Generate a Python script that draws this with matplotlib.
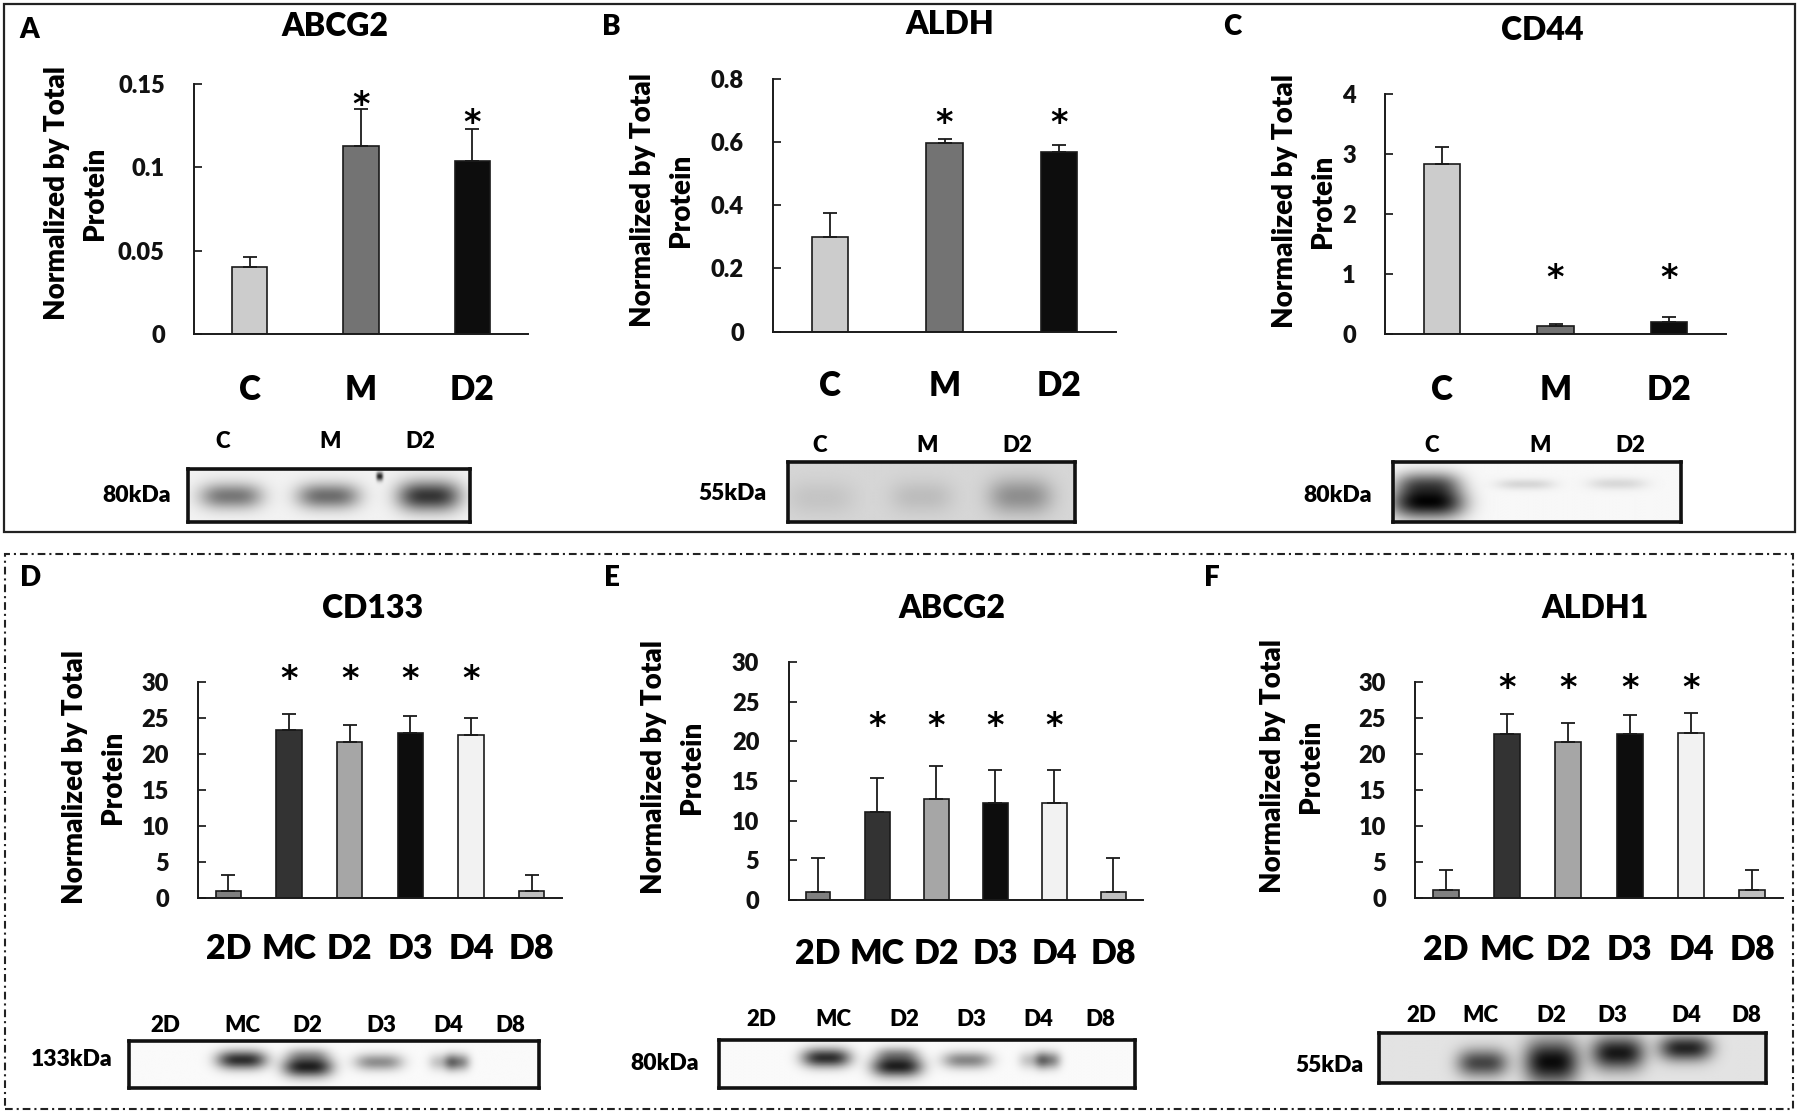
import numpy as np
import matplotlib
matplotlib.use("Agg")
import matplotlib.pyplot as plt
from matplotlib.patches import Rectangle

W, H = 1800, 1113

# ---------------------------------------------------------------------------
# Data
# ---------------------------------------------------------------------------
top_groups = ["C", "M", "D2"]
top_colors = ["#cccccc", "#737373", "#0d0d0d"]

abcg2_mean = [0.040, 0.113, 0.104]
abcg2_err = [0.006, 0.022, 0.019]
abcg2_star = [None, 0.142, 0.131]
abcg2_ticks = [0, 0.05, 0.1, 0.15]
abcg2_ticklabels = ["0", "0.05", "0.1", "0.15"]

aldh_mean = [0.30, 0.597, 0.567]
aldh_err = [0.075, 0.012, 0.024]
aldh_star = [None, 0.683, 0.683]
aldh_ticks = [0, 0.2, 0.4, 0.6, 0.8]
aldh_ticklabels = ["0", "0.2", "0.4", "0.6", "0.8"]

cd44_mean = [2.83, 0.14, 0.20]
cd44_err = [0.29, 0.02, 0.09]
cd44_star = [None, 1.06, 1.06]
cd44_ticks = [0, 1, 2, 3, 4]
cd44_ticklabels = ["0", "1", "2", "3", "4"]

bottom_groups = ["2D", "MC", "D2", "D3", "D4", "D8"]
bottom_colors = ["#808080", "#333333", "#a6a6a6", "#0d0d0d", "#f2f2f2", "#bfbfbf"]
bottom_ticks = [0, 5, 10, 15, 20, 25, 30]
bottom_ticklabels = ["0", "5", "10", "15", "20", "25", "30"]

cd133_mean = [1.0, 23.3, 21.6, 22.9, 22.6, 1.0]
cd133_err = [2.2, 2.3, 2.4, 2.4, 2.4, 2.2]
cd133_star = [None, 31.4, 31.4, 31.4, 31.4, None]

abcg2_3d_mean = [1.0, 11.1, 12.7, 12.2, 12.2, 1.0]
abcg2_3d_err = [4.3, 4.3, 4.2, 4.2, 4.2, 4.3]
abcg2_3d_star = [None, 22.8, 22.8, 22.8, 22.8, None]

aldh1_mean = [1.0, 22.8, 21.6, 22.7, 22.9, 1.0]
aldh1_err = [2.8, 2.75, 2.65, 2.75, 2.8, 2.8]
aldh1_star = [None, 30.2, 30.2, 30.2, 30.2, None]

# blot bands: (x centre, y centre, half width, half height, darkness), fractions of the blot
blot_a_bands = [(0.152, 0.52, 0.11, 0.24, 0.48), (0.496, 0.52, 0.11, 0.24, 0.52),
                (0.853, 0.52, 0.11, 0.28, 0.74), (0.678, 0.15, 0.012, 0.08, 0.8)]
blot_b_bands = [(0.114, 0.60, 0.12, 0.30, 0.07), (0.466, 0.58, 0.11, 0.28, 0.10),
                (0.810, 0.57, 0.11, 0.30, 0.28)]
blot_c_bands = [(0.120, 0.68, 0.125, 0.26, 0.92), (0.120, 0.35, 0.11, 0.20, 0.5),
                (0.459, 0.37, 0.10, 0.09, 0.13), (0.777, 0.36, 0.10, 0.10, 0.12)]
blot_d_bands = [(0.274, 0.40, 0.060, 0.20, 0.80), (0.435, 0.55, 0.060, 0.22, 0.85),
                (0.435, 0.28, 0.05, 0.15, 0.25), (0.608, 0.45, 0.058, 0.18, 0.42),
                (0.765, 0.45, 0.035, 0.18, 0.22), (0.800, 0.45, 0.03, 0.18, 0.45)]
blot_e_bands = [(0.257, 0.37, 0.058, 0.20, 0.80), (0.427, 0.55, 0.060, 0.22, 0.85),
                (0.427, 0.28, 0.05, 0.15, 0.3), (0.595, 0.42, 0.058, 0.18, 0.45),
                (0.755, 0.42, 0.035, 0.18, 0.22), (0.790, 0.42, 0.03, 0.18, 0.45)]
blot_f_bands = [(0.267, 0.60, 0.065, 0.28, 0.62), (0.446, 0.58, 0.07, 0.45, 0.85),
                (0.618, 0.40, 0.068, 0.34, 0.80), (0.793, 0.30, 0.068, 0.26, 0.75)]

# ---------------------------------------------------------------------------
# Styling
# ---------------------------------------------------------------------------
plt.rcParams["font.family"] = ["Lato", "DejaVu Sans"]
plt.rcParams["font.weight"] = "heavy"
HEAVY = "heavy"

fig = plt.figure(figsize=(W / 100, H / 100), dpi=100)
fig.patch.set_facecolor("white")


def fig_box(left, top, right, bottom):
    return [left / W, 1 - bottom / H, (right - left) / W, (bottom - top) / H]


def ftext(x, y, s, **kw):
    fig.text(x / W, 1 - y / H, s, **kw)


def bar_panel(box, groups, colors, mean, err, star, ticks, ticklabels, width,
              cat_size, cat_pad):
    ax = fig.add_axes(fig_box(*box))
    x = np.arange(len(groups))
    ax.bar(x, mean, width=width, color=colors, edgecolor="#1a1a1a", linewidth=1.2, zorder=2)
    ax.errorbar(x, mean, yerr=[np.zeros(len(mean)), err], fmt="none", ecolor="#1a1a1a",
                elinewidth=1.3, capsize=5, capthick=1.3, zorder=3)
    for xi, sy in zip(x, star):
        if sy is not None:
            # asterisk glyph sits high in its box: anchor on baseline and pull down
            ax.annotate("*", (xi, sy), xytext=(0, -12.5), textcoords="offset points",
                        ha="center", va="baseline", fontsize=24, fontweight="bold",
                        family=["DejaVu Sans"], annotation_clip=False)
    ax.set_xlim(-0.5, len(groups) - 0.5)
    ax.set_ylim(0, ticks[-1])
    ax.set_yticks(ticks)
    ax.set_yticklabels(ticklabels, fontsize=17)
    ax.set_xticks(x)
    ax.set_xticklabels(groups, fontsize=cat_size)
    ax.tick_params(axis="x", length=0, pad=cat_pad)
    ax.tick_params(axis="y", direction="in", length=6, width=1.2, pad=21, colors="#111111")
    for lab in ax.get_yticklabels() + ax.get_xticklabels():
        lab.set_fontweight(HEAVY)
    for side in ["top", "right"]:
        ax.spines[side].set_visible(False)
    for side in ["left", "bottom"]:
        ax.spines[side].set_linewidth(1.4)
        ax.spines[side].set_color("#1a1a1a")
    ax.patch.set_alpha(0)
    return ax


def blot(box, bands, bg):
    ax = fig.add_axes(fig_box(*box))
    h, w = 80, 400
    yy, xx = np.mgrid[0:1:h * 1j, 0:1:w * 1j]
    img = np.full((h, w), bg)
    for cx, cy, hw, hh, dark in bands:
        img = img - dark * np.exp(-(np.abs(xx - cx) / hw) ** 3 - ((yy - cy) / hh) ** 2)
    ax.imshow(np.clip(img, 0, 1), cmap="gray", vmin=0, vmax=1, aspect="auto",
              interpolation="bilinear")
    ax.set_xticks([])
    ax.set_yticks([])
    for sp in ax.spines.values():
        sp.set_linewidth(2.6)
        sp.set_color("#111111")
    return ax


YLABEL = "Normalized by Total\nProtein"

# ---------------------------------------------------------------------------
# Top row
# ---------------------------------------------------------------------------
bar_panel((194, 84, 528, 334), top_groups, top_colors, abcg2_mean, abcg2_err, abcg2_star,
          abcg2_ticks, abcg2_ticklabels, 0.32, 24, 29)
bar_panel((773, 78.5, 1116, 331.7), top_groups, top_colors, aldh_mean, aldh_err, aldh_star,
          aldh_ticks, aldh_ticklabels, 0.32, 24, 27.5)
bar_panel((1385, 93.7, 1726, 334), top_groups, top_colors, cd44_mean, cd44_err, cd44_star,
          cd44_ticks, cd44_ticklabels, 0.32, 24, 28.5)

# ---------------------------------------------------------------------------
# Bottom row
# ---------------------------------------------------------------------------
bar_panel((198, 682, 562, 898), bottom_groups, bottom_colors, cd133_mean, cd133_err,
          cd133_star, bottom_ticks, bottom_ticklabels, 0.42, 24.5, 25)
bar_panel((788.5, 662, 1143, 900), bottom_groups, bottom_colors, abcg2_3d_mean,
          abcg2_3d_err, abcg2_3d_star, bottom_ticks, bottom_ticklabels, 0.42, 24.5, 27)
bar_panel((1415, 682, 1783, 897.6), bottom_groups, bottom_colors, aldh1_mean, aldh1_err,
          aldh1_star, bottom_ticks, bottom_ticklabels, 0.42, 24.5, 26)

# titles, panel letters, y labels
for x, y, s in [(335, 26, "ABCG2"), (950, 24, "ALDH"), (1542, 31, "CD44"),
                (373, 609, "CD133"), (952, 609, "ABCG2"), (1595, 609, "ALDH1")]:
    ftext(x, y, s, ha="center", va="center", fontsize=23, fontweight=HEAVY)

for x, y, s in [(29, 30, "A"), (611, 27, "B"), (1232, 27, "C"),
                (31, 578, "D"), (612, 578, "E"), (1212, 578, "F")]:
    ftext(x, y, s, ha="center", va="center", fontsize=20, fontweight=HEAVY)

for x, y in [(76, 193), (662, 200), (1304, 201), (94, 777), (673, 767), (1292, 766)]:
    ftext(x, y, YLABEL, ha="center", va="center", rotation=90, fontsize=20,
          fontweight=HEAVY, linespacing=1.55, multialignment="center")

# ---------------------------------------------------------------------------
# Western blots
# ---------------------------------------------------------------------------
blot((187.5, 469, 470, 522), blot_a_bands, 0.95)
blot((788.4, 462, 1075, 521.8), blot_b_bands, 0.84)
blot((1392.5, 462, 1681.4, 521.8), blot_c_bands, 0.97)
blot((128.6, 1041, 538.8, 1087.6), blot_d_bands, 0.98)
blot((719, 1040, 1135.3, 1087.6), blot_e_bands, 0.98)
blot((1379, 1033, 1766, 1083), blot_f_bands, 0.89)

lane_labels = [
    ([223, 330, 420], 442, top_groups),
    ([820, 927, 1017], 446, top_groups),
    ([1432, 1540, 1630], 446, top_groups),
    ([165, 242, 307, 381, 448, 510], 1025, bottom_groups),
    ([761, 833, 904, 971, 1038, 1100], 1020, bottom_groups),
    ([1421, 1480, 1551, 1612, 1686, 1746], 1015, bottom_groups),
]
for xs, y, names in lane_labels:
    for x, s in zip(xs, names):
        ftext(x, y, s, ha="center", va="center", fontsize=16, fontweight=HEAVY)

for x, y, s in [(171, 496, "80kDa"), (767, 493, "55kDa"), (1372, 496, "80kDa"),
                (113, 1060, "133kDa"), (699, 1063, "80kDa"), (1364, 1065, "55kDa")]:
    ftext(x, y, s, ha="right", va="center", fontsize=16.5, fontweight=HEAVY)

# ---------------------------------------------------------------------------
# Panel frames
# ---------------------------------------------------------------------------
fig.add_artist(Rectangle((4 / W, 1 - 532 / H), (1795 - 4) / W, (532 - 4) / H,
                         transform=fig.transFigure, fill=False, lw=1.6, ec="#222222"))
fig.add_artist(Rectangle((4.6 / W, 1 - 1108.5 / H), (1792.7 - 4.6) / W, (1108.5 - 554) / H,
                         transform=fig.transFigure, fill=False, lw=1.5, ec="#222222",
                         linestyle=(0, (3.7, 1.9, 1, 1.9))))

fig.savefig("out.png", dpi=100)
